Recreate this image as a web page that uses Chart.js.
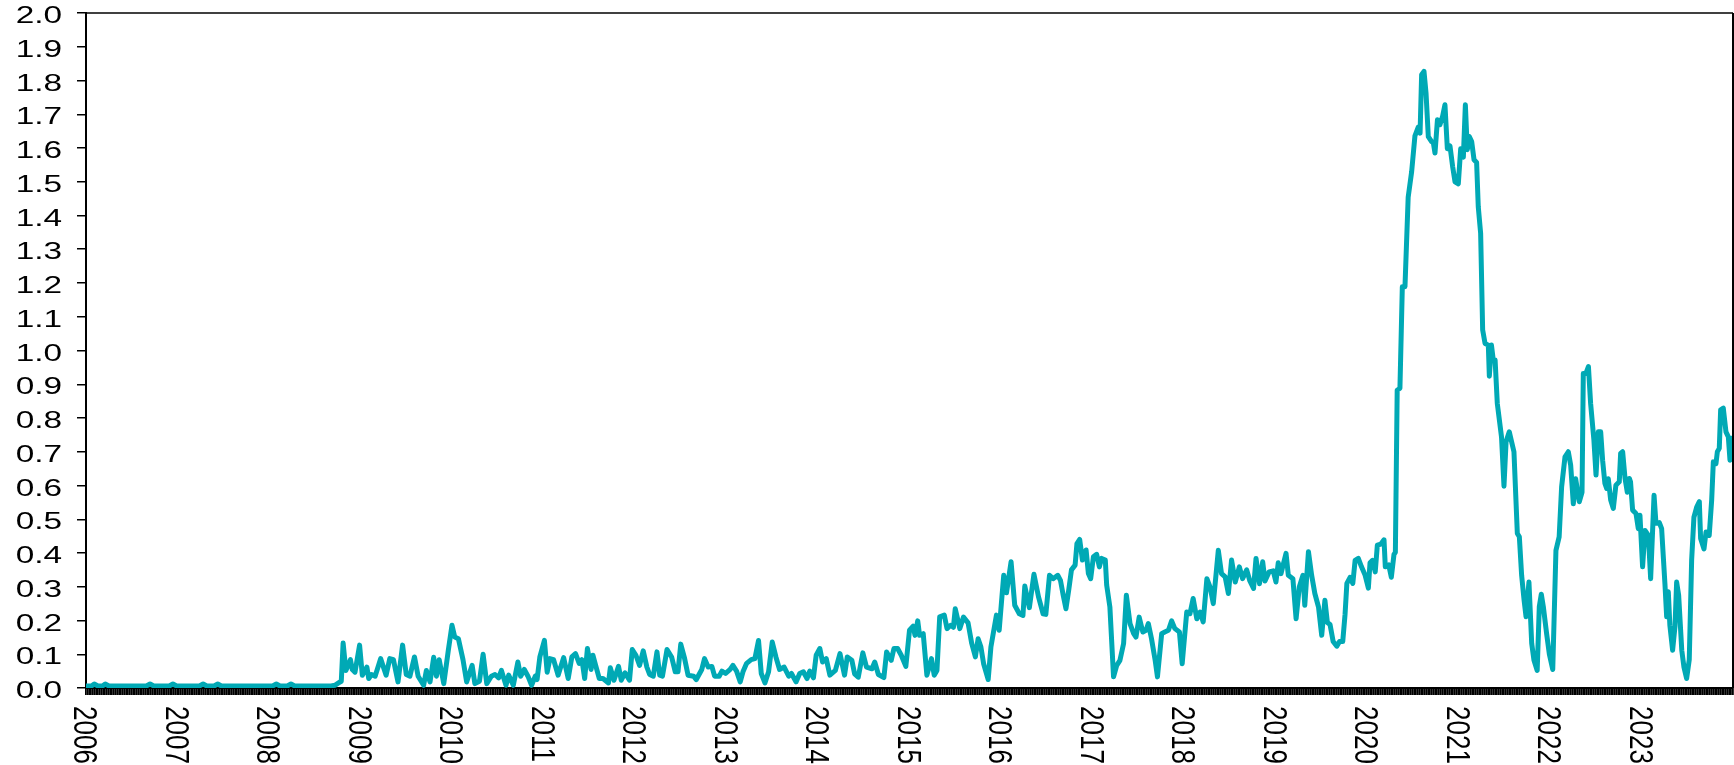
<!DOCTYPE html>
<html>
<head>
<meta charset="utf-8">
<script src="https://cdn.jsdelivr.net/npm/chart.js@4.4.0/dist/chart.umd.min.js"></script>
<style>
  html, body { margin: 0; padding: 0; background: #fff; }
  #wrap { width: 1734px; height: 765px; }
</style>
</head>
<body>
<div id="wrap"><canvas id="chart"></canvas></div>
<script>
// Semaine (année décimale) et valeur
const dates = [
  2006.00, 2006.06, 2006.09, 2006.13, 2006.18, 2006.21, 2006.25, 2006.66, 2006.70, 2006.74,
  2006.91, 2006.95, 2006.99, 2007.24, 2007.28, 2007.32, 2007.40, 2007.44, 2007.48, 2008.04,
  2008.08, 2008.12, 2008.20, 2008.24, 2008.28, 2008.68, 2008.72, 2008.76, 2008.79,
  2008.81, 2008.84, 2008.89, 2008.91, 2008.94, 2008.99, 2009.02, 2009.07, 2009.09, 2009.12,
  2009.16, 2009.22, 2009.28, 2009.32, 2009.36, 2009.41, 2009.46, 2009.50, 2009.54, 2009.59,
  2009.63, 2009.69, 2009.72, 2009.76, 2009.80, 2009.83, 2009.86, 2009.91, 2009.96, 2010.00,
  2010.03, 2010.07, 2010.12, 2010.16, 2010.22, 2010.25, 2010.30, 2010.34, 2010.38, 2010.43,
  2010.47, 2010.51, 2010.54, 2010.59, 2010.62, 2010.67, 2010.72, 2010.75, 2010.79, 2010.83,
  2010.87, 2010.91, 2010.93, 2010.96, 2011.01, 2011.04, 2011.07, 2011.11, 2011.16,
  2011.22, 2011.27, 2011.31, 2011.35, 2011.39, 2011.42, 2011.45, 2011.48, 2011.52, 2011.54,
  2011.57, 2011.61, 2011.65, 2011.71, 2011.73, 2011.77, 2011.82, 2011.85, 2011.89, 2011.94,
  2011.97, 2012.01, 2012.05, 2012.09, 2012.13, 2012.16, 2012.20, 2012.24, 2012.27, 2012.30,
  2012.35, 2012.40, 2012.44, 2012.47, 2012.50, 2012.54, 2012.58, 2012.64, 2012.67, 2012.73,
  2012.76, 2012.80, 2012.84, 2012.87, 2012.92, 2012.95, 2012.99, 2013.04, 2013.07, 2013.11,
  2013.15, 2013.18, 2013.22, 2013.27, 2013.31, 2013.35, 2013.38, 2013.42, 2013.46, 2013.50,
  2013.54, 2013.58, 2013.63, 2013.68, 2013.71, 2013.76, 2013.80, 2013.84, 2013.88, 2013.91,
  2013.95, 2013.98,
  2014.02, 2014.05, 2014.09, 2014.13, 2014.19, 2014.24, 2014.29, 2014.32, 2014.37, 2014.40,
  2014.44, 2014.49, 2014.53, 2014.59, 2014.62, 2014.66, 2014.72, 2014.75, 2014.80, 2014.83,
  2014.87, 2014.91, 2014.96, 2015.00, 2015.04, 2015.06, 2015.09, 2015.11, 2015.15, 2015.19,
  2015.24, 2015.27, 2015.30, 2015.33, 2015.38, 2015.41, 2015.45, 2015.48, 2015.50, 2015.55,
  2015.59, 2015.64, 2015.68, 2015.72, 2015.75, 2015.78, 2015.81, 2015.86, 2015.89, 2015.95,
  2015.98, 2016.01, 2016.03, 2016.06, 2016.11, 2016.15, 2016.20, 2016.24, 2016.26, 2016.31,
  2016.36, 2016.41, 2016.46, 2016.49, 2016.53, 2016.57, 2016.62,
  2016.65, 2016.68, 2016.71, 2016.74, 2016.77, 2016.81, 2016.83, 2016.86, 2016.89, 2016.93,
  2016.955, 2016.98, 2017.01, 2017.045, 2017.075, 2017.10, 2017.14, 2017.155, 2017.19, 2017.23,
  2017.265, 2017.30, 2017.34, 2017.37, 2017.41, 2017.45, 2017.475, 2017.51, 2017.55, 2017.585,
  2017.61, 2017.645, 2017.685, 2017.71, 2017.756, 2017.79, 2017.83, 2017.865, 2017.90, 2017.95,
  2017.98, 2018.03, 2018.065, 2018.10, 2018.14, 2018.175, 2018.21, 2018.25, 2018.285, 2018.32,
  2018.375, 2018.41, 2018.45, 2018.485, 2018.52, 2018.56, 2018.605, 2018.64, 2018.685, 2018.72,
  2018.76, 2018.787, 2018.825, 2018.86, 2018.885, 2018.93, 2018.975, 2019.005, 2019.03, 2019.06,
  2019.115, 2019.14, 2019.19, 2019.225, 2019.26, 2019.30, 2019.32, 2019.36, 2019.395, 2019.43,
  2019.47,
  2019.505, 2019.54, 2019.567, 2019.596, 2019.63, 2019.67, 2019.70, 2019.735, 2019.76, 2019.78,
  2019.815, 2019.845, 2019.87, 2019.905, 2019.94, 2019.98, 2020.015, 2020.033, 2020.06, 2020.09,
  2020.113, 2020.15, 2020.186, 2020.20, 2020.237, 2020.266, 2020.295, 2020.31, 2020.33, 2020.36,
  2020.386, 2020.415, 2020.45, 2020.488, 2020.524, 2020.56, 2020.58,
  2020.597, 2020.623, 2020.645, 2020.67, 2020.706, 2020.725, 2020.743, 2020.77, 2020.797, 2020.827,
  2020.852, 2020.878, 2020.907, 2020.936, 2020.962, 2020.998, 2021.024, 2021.053, 2021.075, 2021.096,
  2021.118, 2021.144, 2021.17, 2021.198, 2021.216, 2021.242,
  2021.264, 2021.29, 2021.326, 2021.337, 2021.36, 2021.38, 2021.40, 2021.424, 2021.47, 2021.497,
  2021.52, 2021.555, 2021.606, 2021.643, 2021.665, 2021.69, 2021.716, 2021.738, 2021.77, 2021.80,
  2021.825, 2021.86, 2021.883, 2021.905, 2021.927, 2021.963, 2021.993, 2022.03, 2022.065, 2022.10,
  2022.127, 2022.164, 2022.20, 2022.226, 2022.255, 2022.28, 2022.32, 2022.35, 2022.364, 2022.393,
  2022.42, 2022.444, 2022.48, 2022.503, 2022.528, 2022.554, 2022.575, 2022.60, 2022.62, 2022.637,
  2022.663, 2022.692, 2022.72, 2022.757, 2022.772, 2022.794, 2022.82, 2022.845, 2022.867, 2022.88,
  2022.903, 2022.94, 2022.965, 2022.983, 2023.012, 2023.038, 2023.075, 2023.10, 2023.137, 2023.158,
  2023.195, 2023.22, 2023.256, 2023.275, 2023.293, 2023.31, 2023.34, 2023.366, 2023.384, 2023.406,
  2023.44, 2023.464, 2023.493, 2023.522, 2023.548, 2023.573, 2023.603, 2023.632, 2023.646, 2023.683,
  2023.705, 2023.74, 2023.767, 2023.785, 2023.814, 2023.829, 2023.85, 2023.865, 2023.894, 2023.923,
  2023.949, 2023.967, 2023.985, 2024.0
];

const values = [
  0.006, 0.006, 0.012, 0.006, 0.006, 0.012, 0.006, 0.006, 0.012, 0.006,
  0.006, 0.012, 0.006, 0.006, 0.012, 0.006, 0.006, 0.012, 0.006, 0.006,
  0.012, 0.006, 0.006, 0.012, 0.006, 0.006, 0.008, 0.015, 0.020,
  0.133, 0.052, 0.084, 0.055, 0.047, 0.127, 0.038, 0.062, 0.028, 0.040,
  0.035, 0.087, 0.038, 0.087, 0.084, 0.018, 0.127, 0.040, 0.035, 0.092,
  0.035, 0.008, 0.052, 0.018, 0.091, 0.035, 0.084, 0.013, 0.112, 0.186,
  0.151, 0.146, 0.084, 0.018, 0.067, 0.013, 0.020, 0.100, 0.013, 0.035,
  0.040, 0.030, 0.052, 0.008, 0.038, 0.008, 0.077, 0.035, 0.055, 0.035,
  0.008, 0.035, 0.025, 0.092, 0.141, 0.047, 0.087, 0.084, 0.038,
  0.090, 0.028, 0.092, 0.102, 0.073, 0.084, 0.028, 0.117, 0.055, 0.097,
  0.067, 0.028, 0.028, 0.015, 0.060, 0.023, 0.064, 0.023, 0.045, 0.023,
  0.114, 0.097, 0.067, 0.110, 0.062, 0.040, 0.035, 0.107, 0.038, 0.035,
  0.114, 0.092, 0.048, 0.048, 0.130, 0.090, 0.038, 0.035, 0.025, 0.055,
  0.087, 0.062, 0.064, 0.035, 0.035, 0.050, 0.043, 0.055, 0.067, 0.050,
  0.018, 0.048, 0.073, 0.084, 0.087, 0.141, 0.043, 0.015, 0.048, 0.136,
  0.092, 0.055, 0.062, 0.035, 0.043, 0.018, 0.043, 0.048, 0.028, 0.050,
  0.030, 0.097,
  0.117, 0.077, 0.087, 0.038, 0.052, 0.102, 0.038, 0.092, 0.082, 0.042,
  0.032, 0.104, 0.062, 0.057, 0.077, 0.040, 0.031, 0.107, 0.082, 0.117,
  0.117, 0.097, 0.064, 0.171, 0.183, 0.156, 0.199, 0.156, 0.161, 0.038,
  0.087, 0.038, 0.052, 0.211, 0.216, 0.176, 0.186, 0.180, 0.235, 0.176,
  0.210, 0.193, 0.132, 0.092, 0.146, 0.122, 0.072, 0.025, 0.122, 0.216,
  0.171, 0.270, 0.334, 0.282, 0.374, 0.245, 0.220, 0.215, 0.302, 0.238,
  0.337, 0.270, 0.220, 0.218, 0.334, 0.324, 0.334,
  0.319, 0.275, 0.235, 0.290, 0.350, 0.364, 0.428, 0.440, 0.379, 0.409,
  0.339, 0.324, 0.389, 0.396, 0.359, 0.384, 0.379, 0.305, 0.240, 0.033,
  0.067, 0.082, 0.132, 0.275, 0.191, 0.161, 0.151, 0.210, 0.166, 0.171,
  0.191, 0.146, 0.082, 0.033, 0.161, 0.166, 0.171, 0.199, 0.176, 0.166,
  0.072, 0.225, 0.220, 0.265, 0.205, 0.225, 0.196, 0.324, 0.299, 0.250,
  0.408, 0.339, 0.329, 0.280, 0.379, 0.314, 0.359, 0.324, 0.350, 0.317,
  0.295, 0.384, 0.309, 0.374, 0.317, 0.344, 0.347, 0.314, 0.371, 0.339,
  0.399, 0.334, 0.324, 0.205, 0.299, 0.334, 0.245, 0.404, 0.334, 0.280,
  0.240,
  0.156, 0.260, 0.194, 0.188, 0.138, 0.124, 0.138, 0.138, 0.218, 0.310,
  0.328, 0.310, 0.378, 0.384, 0.359, 0.334, 0.296, 0.371, 0.378, 0.344,
  0.423, 0.426, 0.439, 0.359, 0.365, 0.328, 0.396, 0.402, 0.882, 0.888,
  1.189, 1.189, 1.454, 1.530, 1.636, 1.662, 1.644,
  1.817, 1.827, 1.763, 1.634, 1.619, 1.616, 1.585, 1.684, 1.669, 1.695,
  1.728, 1.598, 1.606, 1.545, 1.500, 1.494, 1.598, 1.573, 1.728, 1.595,
  1.634, 1.619, 1.565, 1.557, 1.426, 1.347,
  1.061, 1.021, 1.016, 0.924, 1.016, 0.972, 0.972, 0.843, 0.744, 0.598,
  0.730, 0.759, 0.700, 0.458, 0.448, 0.334, 0.262, 0.211, 0.314, 0.132,
  0.082, 0.052, 0.241, 0.278, 0.241, 0.161, 0.100, 0.055, 0.408, 0.448,
  0.596, 0.685, 0.700, 0.660, 0.546, 0.620, 0.552, 0.580, 0.932, 0.932,
  0.952, 0.843, 0.734, 0.631, 0.759, 0.759, 0.675, 0.606, 0.591, 0.620,
  0.557, 0.532, 0.601, 0.611, 0.695, 0.700, 0.621, 0.580, 0.621, 0.611,
  0.527, 0.517, 0.472, 0.512, 0.359, 0.467, 0.452, 0.324, 0.571, 0.488,
  0.490, 0.472, 0.309, 0.211, 0.285, 0.186, 0.112, 0.182, 0.314, 0.275,
  0.112, 0.062, 0.028, 0.084, 0.379, 0.506, 0.536, 0.552, 0.443, 0.412,
  0.462, 0.452, 0.557, 0.670, 0.665, 0.700, 0.710, 0.824, 0.829, 0.759,
  0.744, 0.675, 0.740, 0.700
];

const yearLabels = ['2006', '2007', '2008', '2009', '2010', '2011', '2012', '2013', '2014',
  '2015', '2016', '2017', '2018', '2019', '2020', '2021', '2022', '2023'];

const yTickLabels = ['0.0', '0.1', '0.2', '0.3', '0.4', '0.5', '0.6', '0.7', '0.8', '0.9', '1.0',
  '1.1', '1.2', '1.3', '1.4', '1.5', '1.6', '1.7', '1.8', '1.9', '2.0'];

const LINE_COLOR = '#00a9b5';
const Y_STRETCH = 1.45; // texte étiré horizontalement comme dans l'original
const X_STRETCH = 1.3;
const Y_FONT = '23px "Liberation Sans", Arial, sans-serif';
const X_FONT = '26px "Liberation Sans", Arial, sans-serif';

// Cadre + étiquettes des axes (texte étiré, années en vertical)
const axisText = {
    id: 'axisText',
    afterDraw(chart) {
        const { ctx, chartArea, scales } = chart;
        ctx.save();
        ctx.strokeStyle = '#000';
        ctx.lineWidth = 1.5;
        ctx.beginPath();
        ctx.moveTo(chartArea.left, chartArea.top);
        ctx.lineTo(chartArea.right, chartArea.top);
        ctx.stroke();
        ctx.lineWidth = 2;
        ctx.beginPath();
        ctx.moveTo(chartArea.right, chartArea.top);
        ctx.lineTo(chartArea.right, chartArea.bottom);
        ctx.stroke();

        ctx.fillStyle = '#000';
        ctx.textBaseline = 'alphabetic';

        ctx.font = Y_FONT;
        ctx.textAlign = 'right';
        yTickLabels.forEach(function (t) {
            const y = scales.y.getPixelForValue(parseFloat(t));
            ctx.save();
            ctx.translate(62, y + 10);
            ctx.scale(Y_STRETCH, 1);
            ctx.fillText(t, 0, 0);
            ctx.restore();
        });

        ctx.font = X_FONT;
        ctx.textAlign = 'left';
        yearLabels.forEach(function (yr) {
            const x = scales.x.getPixelForValue(Number(yr));
            ctx.save();
            ctx.translate(x, 706);
            ctx.scale(X_STRETCH, 1);
            ctx.rotate(Math.PI / 2);
            ctx.fillText(yr, 0, 9);
            ctx.restore();
        });
        ctx.restore();
    }
};

new Chart(document.getElementById('chart'), {
    type: 'line',
    data: {
        datasets: [{
            data: dates.map(function (d, i) { return { x: d, y: values[i] }; }),
            borderColor: LINE_COLOR,
            borderWidth: 5,
            borderJoinStyle: 'round',
            borderCapStyle: 'round',
            pointRadius: 0,
            tension: 0,
            fill: false
        }]
    },
    options: {
        responsive: true,
        maintainAspectRatio: false,
        animation: false,
        events: [],
        layout: { padding: { top: 13, right: 1, left: 0, bottom: 0 } },
        plugins: {
            legend: { display: false },
            tooltip: { enabled: false }
        },
        scales: {
            x: {
                type: 'linear',
                min: 2006,
                max: 2024,
                afterFit: function (scale) { scale.height = 77; },
                ticks: { display: false, stepSize: 1 / 52, autoSkip: false },
                grid: {
                    drawOnChartArea: false,
                    drawTicks: true,
                    tickLength: 7,
                    color: '#000',
                    lineWidth: 1.8
                },
                border: { display: true, color: '#000', width: 2 }
            },
            y: {
                min: 0,
                max: 2,
                afterFit: function (scale) { scale.width = 86; },
                ticks: { display: false, stepSize: 0.1 },
                grid: {
                    drawOnChartArea: false,
                    drawTicks: true,
                    tickLength: 9,
                    color: '#000',
                    lineWidth: 1.5
                },
                border: { display: true, color: '#000', width: 2 }
            }
        }
    },
    plugins: [axisText]
});
</script>
</body>
</html>
